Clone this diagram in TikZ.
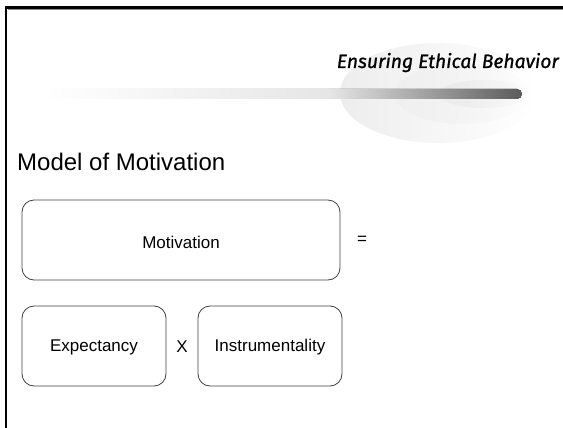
\documentclass[tikz,border=0pt]{standalone}
\usepackage{fontspec}
\setmainfont{Liberation Sans}
\newfontfamily\titlefont[FakeBold=0.9]{Fira Sans}
\usetikzlibrary{fadings}
\begin{document}
\begin{tikzpicture}[x=1pt,y=-1pt,
  box/.style={draw=black!75,line width=0.8pt,rounded corners=12pt},
  body/.style={font=\fontsize{17}{20}\selectfont,inner sep=0pt},
  halo/.style={path fading=east}]
\useasboundingbox (0,0) rectangle (563,428);
% halo
\fill[black!7,halo] (438,93) ellipse [x radius=98, y radius=50];
\fill[black!6,halo] (462,94) ellipse [x radius=68, y radius=30];
\fill[black!8,halo] (484,94) ellipse [x radius=45, y radius=14];
% bar
\fill[left color=white,right color=black!10] (45,89) rectangle (330,99);
\fill[left color=black!10,right color=black!64] (329.5,89) [rounded corners=5pt] -- (522,89) -- (522,99) [sharp corners] -- (329.5,99) -- cycle;
% frame
\draw[black!45,line width=1pt] (8,10) -- (563,10);
\draw[black,line width=3pt] (6,7.5) -- (563,7.5);
\draw[black,line width=2.5pt] (6,6) -- (6,428);
% title
\node[anchor=base east,inner sep=0pt,font=\titlefont\itshape\fontsize{19.3}{22}\selectfont] (title) at (559,68) {Ensuring Ethical Behavior};
\node[anchor=base west,inner sep=0pt,font=\fontsize{24}{28}\selectfont] (heading) at (17,171) {Model of Motivation};
% boxes
\draw[box] (22,200) rectangle (340,280);
\node[body] (mot) at (181,242) {Motivation};
\node[body] (eq) at (362,240) {=};
\draw[box] (22,306) rectangle (166,386);
\node[body] (exp) at (94,347) {Expectancy};
\node[body] (x) at (182,347) {X};
\draw[box] (198,306) rectangle (342,386);
\node[body] (ins) at (270,347) {Instrumentality};
\end{tikzpicture}
\end{document}
